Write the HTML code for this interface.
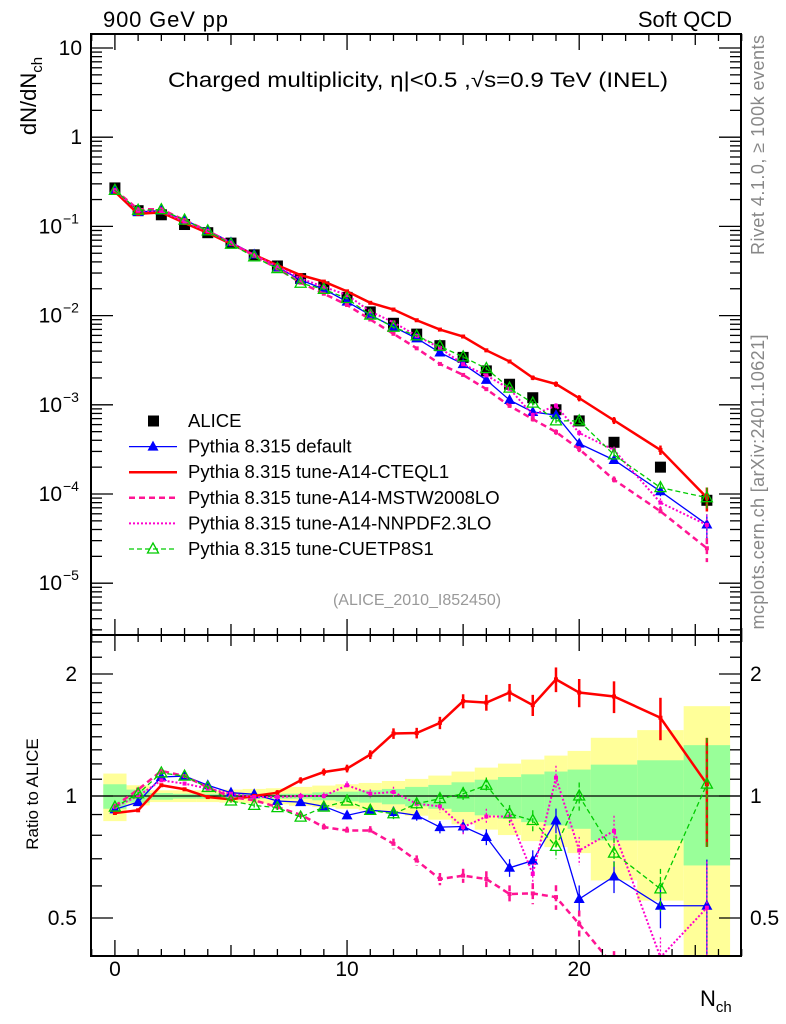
<!DOCTYPE html>
<html><head><meta charset="utf-8">
<style>
html,body{margin:0;padding:0;background:#fff;width:786px;height:1024px;overflow:hidden}
svg{display:block;font-family:"Liberation Sans",sans-serif}
</style></head>
<body>
<svg id="chart" width="786" height="1024" viewBox="0 0 786 1024" xmlns="http://www.w3.org/2000/svg">
<rect width="786" height="1024" fill="#fff"/>
<g id="bands"></g>
<g id="marks"></g>
<g id="axes"></g>
<text x="103" y="27" font-size="22" textLength="125">900 GeV pp</text>
<text x="732" y="27" font-size="22" text-anchor="end">Soft QCD</text>
<text x="168" y="87" font-size="21" textLength="500" lengthAdjust="spacingAndGlyphs">Charged multiplicity, η|&lt;0.5 ,√s=0.9 TeV (INEL)</text>
<text x="417" y="605" font-size="16" fill="#999" text-anchor="middle">(ALICE_2010_I852450)</text>
<text transform="translate(36,96) rotate(-90)" font-size="22" text-anchor="middle">dN/dN<tspan font-size="15" dy="6">ch</tspan></text>
<text transform="translate(38,794) rotate(-90)" font-size="17" text-anchor="middle">Ratio to ALICE</text>
<text x="700" y="1006" font-size="22">N<tspan font-size="15" dy="6">ch</tspan></text>
<text transform="translate(764,145) rotate(-90)" font-size="18" fill="#888" text-anchor="middle" textLength="220">Rivet 4.1.0, ≥ 100k events</text>
<text transform="translate(764,482) rotate(-90)" font-size="18" fill="#888" text-anchor="middle" textLength="295">mcplots.cern.ch [arXiv:2401.10621]</text>
<g id="legend"></g>
</svg>
<script>
const nch = [0,1,2,3,4,5,6,7,8,9,10,11,12,13,14,15,16,17,18,19,20,21.5,23.5,25.5];
const binLo = [-0.5,0.5,1.5,2.5,3.5,4.5,5.5,6.5,7.5,8.5,9.5,10.5,11.5,12.5,13.5,14.5,15.5,16.5,17.5,18.5,19.5,20.5,22.5,24.5];
const binHi = [0.5,1.5,2.5,3.5,4.5,5.5,6.5,7.5,8.5,9.5,10.5,11.5,12.5,13.5,14.5,15.5,16.5,17.5,18.5,19.5,20.5,22.5,24.5,26.5];
const alice = [0.27,0.15,0.135,0.105,0.085,0.065,0.048,0.036,0.026,0.021,0.016,0.011,0.0082,0.0062,0.0046,0.0034,0.0024,0.0017,0.0012,0.00088,0.00066,0.00038,0.0002,0.000085];
const ratioDefault = [0.927,0.966,1.114,1.12,1.063,1.019,1.01,0.972,0.966,0.943,0.896,0.922,0.913,0.896,0.838,0.841,0.792,0.665,0.693,0.87,0.557,0.633,0.536,0.536];
const ratioCTEQ = [0.908,0.922,1.063,1.039,0.994,0.981,1.0,1.019,1.093,1.146,1.169,1.265,1.426,1.43,1.515,1.714,1.7,1.8,1.676,1.94,1.8,1.76,1.56,1.07];
const ratioMSTW = [0.945,1.037,1.153,1.12,1.05,0.994,0.976,0.939,0.899,0.838,0.822,0.822,0.762,0.693,0.624,0.636,0.624,0.573,0.575,0.563,0.483,0.38,0.32,0.29];
const ratioNNPDF = [0.939,1.0,1.093,1.073,1.043,1.013,0.994,0.994,1.0,1.0,1.063,1.013,1.023,0.957,0.943,0.838,0.89,0.89,0.642,1.11,0.734,0.82,0.40,0.53];
const ratioCUETP = [0.939,1.013,1.14,1.12,1.05,0.972,0.948,0.936,0.887,0.939,0.972,0.922,0.904,0.957,0.985,1.013,1.063,0.904,0.87,0.751,1.0,0.723,0.59,1.07];
const mcRelErr = [0.01,0.01,0.01,0.01,0.01,0.01,0.012,0.015,0.018,0.02,0.022,0.025,0.03,0.03,0.035,0.04,0.045,0.05,0.06,0.07,0.08,0.09,0.12,0.3];
const yellowHi = [1.136,1.063,1.033,1.033,1.033,1.037,1.041,1.045,1.053,1.061,1.069,1.077,1.089,1.102,1.123,1.149,1.175,1.202,1.23,1.258,1.292,1.392,1.454,1.666];
const yellowLo = [0.867,0.948,0.966,0.966,0.966,0.963,0.959,0.954,0.946,0.939,0.93,0.922,0.908,0.894,0.874,0.851,0.826,0.801,0.774,0.748,0.723,0.619,0.552,0.372];
const greenHi = [1.069,1.037,1.017,1.013,1.013,1.013,1.013,1.013,1.013,1.021,1.025,1.033,1.041,1.053,1.065,1.081,1.097,1.114,1.131,1.149,1.162,1.195,1.225,1.335];
const greenLo = [0.93,0.963,0.979,0.985,0.985,0.985,0.985,0.985,0.985,0.976,0.97,0.963,0.954,0.943,0.93,0.913,0.896,0.879,0.862,0.846,0.83,0.777,0.777,0.674];
const xTicks = [0,10,20];
const mainTicks = [1,0,-1,-2,-3,-4,-5];
const mainTickLabels = ["10","1","10","10","10","10","10"];
const mainTickExp = ["","","−1","−2","−3","−4","−5"];
const ratioTicks = [2,1,0.5];
const ratioTickLabels = ["2","1","0.5"];

const NS="http://www.w3.org/2000/svg";
const L=91,R=741,T=34,MID=635,B=956;
const X=n=>L+(n+1.03)/(28)*(R-L);
const Ym=v=>48+(1-Math.log10(v))*89.2;
const Yr=r=>796-Math.log2(r)*122;
function el(tag,attrs,parent){const e=document.createElementNS(NS,tag);for(const k in attrs)e.setAttribute(k,attrs[k]);parent.appendChild(e);return e;}
const bands=document.getElementById('bands'),marks=document.getElementById('marks'),axes=document.getElementById('axes'),legend=document.getElementById('legend');

const defs=el('defs',{},document.getElementById('chart'));
const c1=el('clipPath',{id:'cm'},defs);el('rect',{x:L,y:T,width:R-L,height:MID-T},c1);
const c2=el('clipPath',{id:'cr'},defs);el('rect',{x:L,y:MID,width:R-L,height:B-MID},c2);
bands.setAttribute('clip-path','url(#cr)');

for(let i=0;i<nch.length;i++){
  const y=el('rect',{x:X(binLo[i]),width:X(binHi[i])-X(binLo[i]),y:Yr(yellowHi[i]),height:Yr(yellowLo[i])-Yr(yellowHi[i]),fill:'#ffff99'},bands);
  
  
}
for(let i=0;i<nch.length;i++){
  const g=el('rect',{x:X(binLo[i]),width:X(binHi[i])-X(binLo[i]),y:Yr(greenHi[i]),height:Yr(greenLo[i])-Yr(greenHi[i]),fill:'#99ff99'},bands);
  
  
}
const one=el('line',{x1:L,x2:R,y1:Yr(1),y2:Yr(1),stroke:'#000','stroke-width':1.2},bands);



const series=[
 {name:'default',label:'Pythia 8.315 default',ratio:ratioDefault,color:'#0000ff',w:1.3,dash:'',marker:'tri'},
 {name:'cteql1',label:'Pythia 8.315 tune-A14-CTEQL1',ratio:ratioCTEQ,color:'#ff0000',w:2.5,dash:'',marker:'sq'},
 {name:'mstw',label:'Pythia 8.315 tune-A14-MSTW2008LO',ratio:ratioMSTW,color:'#ff1493',w:2.5,dash:'6,4',marker:'sq'},
 {name:'nnpdf',label:'Pythia 8.315 tune-A14-NNPDF2.3LO',ratio:ratioNNPDF,color:'#ff00cc',w:2,dash:'2,2',marker:'sq'},
 {name:'cuetp8s1',label:'Pythia 8.315 tune-CUETP8S1',ratio:ratioCUETP,color:'#00cc00',w:1.3,dash:'5,3',marker:'otri'}
];
function marker(g,type,x,y,c){
  let m;
  if(type==='tri') m=el('polygon',{points:`${x},${y-6} ${x-5.5},${y+4} ${x+5.5},${y+4}`,fill:c},g);
  else if(type==='otri') m=el('polygon',{points:`${x},${y-6} ${x-5.5},${y+4} ${x+5.5},${y+4}`,fill:'none',stroke:c,'stroke-width':1.3},g);
  else m=el('rect',{x:x-2,y:y-2,width:4,height:4,fill:c},g);
  return m;
}
function drawSeries(panel){
  const Y=panel==='main'?Ym:Yr;
  const grp=el('g',{'clip-path':panel==='main'?'url(#cm)':'url(#cr)'},marks);
  
  
  if(panel==='main'){
    for(let i=0;i<nch.length;i++){
      const s=el('rect',{x:X(nch[i])-5.5,y:Ym(alice[i])-5.5,width:11,height:11,fill:'#000'},grp);
      
      
    }
  }
  for(const s of series){
    const vals=s.ratio.map((r,i)=>panel==='main'?r*alice[i]:r);
    const pts=vals.map((v,i)=>X(nch[i])+','+Y(v)).join(' ');
    const pl=el('polyline',{points:pts,fill:'none',stroke:s.color,'stroke-width':s.w,'stroke-dasharray':s.dash},grp);
    
    
    for(let i=0;i<vals.length;i++){
      const x=X(nch[i]),v=vals[i],e=mcRelErr[i];
      const eb=el('line',{x1:x,x2:x,y1:Y(v*(1+e)),y2:Y(v*(1-e)),stroke:s.color,'stroke-width':s.w>2?2.5:1.3,'stroke-dasharray':s.dash},grp);
      
      
      const m=marker(grp,s.marker,x,Y(v),s.color);
      
      
    }
  }
}
drawSeries('main');drawSeries('ratio');

for(const [t,b] of [[T,MID],[MID,B]]){
  const f=el('rect',{x:L,y:t,width:R-L,height:b-t,fill:'none',stroke:'#000','stroke-width':2},axes);
  
  
}
for(let n=-1;n<=27;n++){
  const x=X(n);const len=(n%10===0)?16:(n%5===0?11:7);
  for(const [t,b] of [[T,MID],[MID,B]]){
    el('line',{x1:x,x2:x,y1:b,y2:b-len,stroke:'#000','stroke-width':1.3},axes);
    el('line',{x1:x,x2:x,y1:t,y2:t+len,stroke:'#000','stroke-width':1.3},axes);
  }
}
for(let i=0;i<xTicks.length;i++){
  const t=el('text',{x:X(xTicks[i]),y:976,'font-size':21,'text-anchor':'middle'},axes);
  t.textContent=xTicks[i];
  
  
}
for(let d=-6;d<=1;d++){
  for(let k=1;k<=9;k++){
    const v=k*Math.pow(10,d),y=Ym(v);
    if(y<T||y>MID)continue;
    const len=k===1?22:11;
    el('line',{x1:L,x2:L+len,y1:y,y2:y,stroke:'#000','stroke-width':1.3},axes);
    el('line',{x1:R,x2:R-len,y1:y,y2:y,stroke:'#000','stroke-width':1.3},axes);
  }
}
for(let i=0;i<mainTicks.length;i++){
  const y=Ym(Math.pow(10,mainTicks[i]));
  const t=el('text',{x:mainTickExp[i]?62:82,y:y+7,'font-size':21,'text-anchor':'end'},axes);
  t.textContent=mainTickLabels[i];
  
  
  if(mainTickExp[i]){const s=el('text',{x:63,y:y-3,'font-size':14},axes);s.textContent=mainTickExp[i];
    
    }
}
const rmin=[0.4,0.5,0.6,0.7,0.8,0.9,1,1.1,1.2,1.3,1.4,1.5,1.6,1.7,1.8,1.9,2,2.2,2.4];
for(const r of rmin){
  const y=Yr(r);if(y<MID||y>B)continue;
  const len=(r===0.5||r===1||r===2)?22:11;
  el('line',{x1:L,x2:L+len,y1:y,y2:y,stroke:'#000','stroke-width':1.3},axes);
  el('line',{x1:R,x2:R-len,y1:y,y2:y,stroke:'#000','stroke-width':1.3},axes);
}
for(let i=0;i<ratioTicks.length;i++){
  const y=Yr(ratioTicks[i]);
  const t=el('text',{x:77,y:y+7,'font-size':21,'text-anchor':'end'},axes);t.textContent=ratioTickLabels[i];
  
  
  const t2=el('text',{x:750,y:y+7,'font-size':21},axes);t2.textContent=ratioTickLabels[i];
  
  
}
const ly0=421,dy=25.6;
const a=el('rect',{x:148,y:ly0-5.5,width:11,height:11,fill:'#000'},legend);


const at=el('text',{x:188,y:ly0+6,'font-size':18.5},legend);at.textContent='ALICE';


series.forEach((s,i)=>{
  const y=ly0+dy*(i+1);
  const ln=el('line',{x1:129,x2:177,y1:y,y2:y,stroke:s.color,'stroke-width':s.w,'stroke-dasharray':s.dash},legend);
  
  
  if(s.marker==='tri'||s.marker==='otri'){const m=marker(legend,s.marker,153,y,s.color);
    
    }
  const t=el('text',{x:188,y:y+6,'font-size':18.5},legend);t.textContent=s.label;
  
  
});
</script>
</body></html>
